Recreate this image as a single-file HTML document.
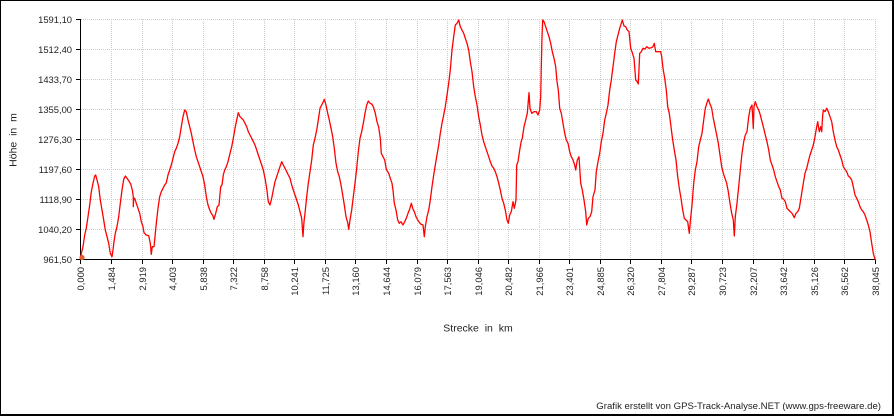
<!DOCTYPE html>
<html><head><meta charset="utf-8"><style>
html,body{margin:0;padding:0;background:#fff;}
body{width:894px;height:416px;overflow:hidden;}
svg{display:block;}
text{font-family:"Liberation Sans",Arial,sans-serif;fill:#222;}
</style></head><body>
<svg width="894" height="416" viewBox="0 0 894 416" xmlns="http://www.w3.org/2000/svg">
<rect x="0" y="0" width="894" height="416" fill="#fff"/>
<!-- frame -->
<rect x="0" y="0" width="894" height="1" fill="#000"/>
<rect x="0" y="0" width="1" height="416" fill="#000"/>
<rect x="892" y="0" width="2" height="416" fill="#000"/>
<rect x="0" y="414" width="894" height="2" fill="#000"/>

<!-- grid -->
<g stroke="#cdcdcd" stroke-width="1" stroke-dasharray="1,1" fill="none" shape-rendering="crispEdges">
<line x1="81" y1="19.5" x2="876" y2="19.5"/>
<line x1="81" y1="49.5" x2="876" y2="49.5"/>
<line x1="81" y1="79.5" x2="876" y2="79.5"/>
<line x1="81" y1="109.5" x2="876" y2="109.5"/>
<line x1="81" y1="139.5" x2="876" y2="139.5"/>
<line x1="81" y1="169.5" x2="876" y2="169.5"/>
<line x1="81" y1="199.5" x2="876" y2="199.5"/>
<line x1="81" y1="229.5" x2="876" y2="229.5"/>
<line x1="111.5" y1="19" x2="111.5" y2="259"/>
<line x1="142.5" y1="19" x2="142.5" y2="259"/>
<line x1="172.5" y1="19" x2="172.5" y2="259"/>
<line x1="203.5" y1="19" x2="203.5" y2="259"/>
<line x1="233.5" y1="19" x2="233.5" y2="259"/>
<line x1="264.5" y1="19" x2="264.5" y2="259"/>
<line x1="294.5" y1="19" x2="294.5" y2="259"/>
<line x1="325.5" y1="19" x2="325.5" y2="259"/>
<line x1="355.5" y1="19" x2="355.5" y2="259"/>
<line x1="386.5" y1="19" x2="386.5" y2="259"/>
<line x1="417.5" y1="19" x2="417.5" y2="259"/>
<line x1="447.5" y1="19" x2="447.5" y2="259"/>
<line x1="478.5" y1="19" x2="478.5" y2="259"/>
<line x1="508.5" y1="19" x2="508.5" y2="259"/>
<line x1="539.5" y1="19" x2="539.5" y2="259"/>
<line x1="569.5" y1="19" x2="569.5" y2="259"/>
<line x1="600.5" y1="19" x2="600.5" y2="259"/>
<line x1="630.5" y1="19" x2="630.5" y2="259"/>
<line x1="661.5" y1="19" x2="661.5" y2="259"/>
<line x1="691.5" y1="19" x2="691.5" y2="259"/>
<line x1="722.5" y1="19" x2="722.5" y2="259"/>
<line x1="753.5" y1="19" x2="753.5" y2="259"/>
<line x1="783.5" y1="19" x2="783.5" y2="259"/>
<line x1="814.5" y1="19" x2="814.5" y2="259"/>
<line x1="844.5" y1="19" x2="844.5" y2="259"/>
<line x1="875.5" y1="19" x2="875.5" y2="259"/>
</g>

<!-- axes -->
<g stroke="#000" stroke-width="1" fill="none" shape-rendering="crispEdges">
<line x1="80.5" y1="19" x2="80.5" y2="260"/>
<line x1="80" y1="259.5" x2="876" y2="259.5"/>
<line x1="76" y1="19.5" x2="80" y2="19.5"/>
<line x1="76" y1="49.5" x2="80" y2="49.5"/>
<line x1="76" y1="79.5" x2="80" y2="79.5"/>
<line x1="76" y1="109.5" x2="80" y2="109.5"/>
<line x1="76" y1="139.5" x2="80" y2="139.5"/>
<line x1="76" y1="169.5" x2="80" y2="169.5"/>
<line x1="76" y1="199.5" x2="80" y2="199.5"/>
<line x1="76" y1="229.5" x2="80" y2="229.5"/>
<line x1="76" y1="259.5" x2="80" y2="259.5"/>
<line x1="80.5" y1="260" x2="80.5" y2="264"/>
<line x1="111.5" y1="260" x2="111.5" y2="264"/>
<line x1="142.5" y1="260" x2="142.5" y2="264"/>
<line x1="172.5" y1="260" x2="172.5" y2="264"/>
<line x1="203.5" y1="260" x2="203.5" y2="264"/>
<line x1="233.5" y1="260" x2="233.5" y2="264"/>
<line x1="264.5" y1="260" x2="264.5" y2="264"/>
<line x1="294.5" y1="260" x2="294.5" y2="264"/>
<line x1="325.5" y1="260" x2="325.5" y2="264"/>
<line x1="355.5" y1="260" x2="355.5" y2="264"/>
<line x1="386.5" y1="260" x2="386.5" y2="264"/>
<line x1="417.5" y1="260" x2="417.5" y2="264"/>
<line x1="447.5" y1="260" x2="447.5" y2="264"/>
<line x1="478.5" y1="260" x2="478.5" y2="264"/>
<line x1="508.5" y1="260" x2="508.5" y2="264"/>
<line x1="539.5" y1="260" x2="539.5" y2="264"/>
<line x1="569.5" y1="260" x2="569.5" y2="264"/>
<line x1="600.5" y1="260" x2="600.5" y2="264"/>
<line x1="630.5" y1="260" x2="630.5" y2="264"/>
<line x1="661.5" y1="260" x2="661.5" y2="264"/>
<line x1="691.5" y1="260" x2="691.5" y2="264"/>
<line x1="722.5" y1="260" x2="722.5" y2="264"/>
<line x1="753.5" y1="260" x2="753.5" y2="264"/>
<line x1="783.5" y1="260" x2="783.5" y2="264"/>
<line x1="814.5" y1="260" x2="814.5" y2="264"/>
<line x1="844.5" y1="260" x2="844.5" y2="264"/>
<line x1="875.5" y1="260" x2="875.5" y2="264"/>
</g>

<!-- y labels -->
<g font-size="9.4" text-anchor="end">
<text x="72" y="22.8">1591,10</text>
<text x="72" y="52.8">1512,40</text>
<text x="72" y="82.8">1433,70</text>
<text x="72" y="112.8">1355,00</text>
<text x="72" y="142.8">1276,30</text>
<text x="72" y="172.8">1197,60</text>
<text x="72" y="202.8">1118,90</text>
<text x="72" y="232.8">1040,20</text>
<text x="72" y="262.8">961,50</text>
</g>

<!-- x labels -->
<g font-size="9.4" text-anchor="end">
<text transform="translate(84,267) rotate(-90)">0,000</text>
<text transform="translate(115,267) rotate(-90)">1,484</text>
<text transform="translate(146,267) rotate(-90)">2,919</text>
<text transform="translate(176,267) rotate(-90)">4,403</text>
<text transform="translate(207,267) rotate(-90)">5,838</text>
<text transform="translate(237,267) rotate(-90)">7,322</text>
<text transform="translate(268,267) rotate(-90)">8,758</text>
<text transform="translate(298,267) rotate(-90)">10,241</text>
<text transform="translate(329,267) rotate(-90)">11,725</text>
<text transform="translate(359,267) rotate(-90)">13,160</text>
<text transform="translate(390,267) rotate(-90)">14,644</text>
<text transform="translate(421,267) rotate(-90)">16,079</text>
<text transform="translate(451,267) rotate(-90)">17,563</text>
<text transform="translate(482,267) rotate(-90)">19,046</text>
<text transform="translate(512,267) rotate(-90)">20,482</text>
<text transform="translate(543,267) rotate(-90)">21,966</text>
<text transform="translate(573,267) rotate(-90)">23,401</text>
<text transform="translate(604,267) rotate(-90)">24,885</text>
<text transform="translate(634,267) rotate(-90)">26,320</text>
<text transform="translate(665,267) rotate(-90)">27,804</text>
<text transform="translate(695,267) rotate(-90)">29,287</text>
<text transform="translate(726,267) rotate(-90)">30,723</text>
<text transform="translate(757,267) rotate(-90)">32,207</text>
<text transform="translate(787,267) rotate(-90)">33,642</text>
<text transform="translate(818,267) rotate(-90)">35,126</text>
<text transform="translate(848,267) rotate(-90)">36,562</text>
<text transform="translate(879,267) rotate(-90)">38,045</text>
</g>

<!-- axis titles -->
<text x="478" y="331.5" font-size="10.5" text-anchor="middle">Strecke&#160;&#160;in&#160;&#160;km</text>
<text transform="translate(16.5,140) rotate(-90)" font-size="10.5" text-anchor="middle">Höhe&#160;&#160;in&#160;&#160;m</text>

<!-- footer -->
<text x="881" y="409" font-size="9.6" text-anchor="end">Grafik erstellt von GPS-Track-Analyse.NET (www.gps-freeware.de)</text>

<!-- profile -->
<polyline fill="none" stroke="#ff0000" stroke-width="1.3" stroke-linejoin="round" points="
81,258 81.3,253.3 83,246.7 84.7,235 86.3,228 88,216.7 89.7,205 91.3,191.7 93,183.3 94.7,176 95.7,175 97,180 98.7,186.7 100.3,200 102,210 103.7,220 105.3,230 107,236.7 108.7,243.3 110.3,253.3 112,256.7 113,250 114,241.7 115.3,233.3 117,226.7 118.7,216.7 120.3,203.3 122,190 123.7,179.3 125.3,176 127,178.3 128.7,180.7 130.7,184 132.3,190 133.3,196.7 133.3,206.7 133.7,198.3 134.7,198.3 136.3,203.3 138,208.3 139.7,213.3 141.3,221.7 143,226.7 144,232.7 146.3,235 148.7,235.7 150.3,243.3 151.3,254.3 152.3,246.7 154,246.7 155,236.7 156.3,223.3 158,208.3 159.7,196.7 161.3,191.7 163,188.3 164.7,185 166.3,182.7 168,175 169.7,170 171.3,165 173,158.3 174.7,151.7 176.3,148.3 178,143.3 179.7,136.7 181.3,126.7 183,116.7 184.7,110 186.3,111.7 188,120 189.7,126.7 191.3,133.3 193,141.7 194.7,150 196.3,156.7 198,161.7 199.7,166.7 201.3,171.7 203,176.7 204.7,185 206.3,196.7 208,205 209.7,210 211.3,213.3 213,216 214,219.3 215.7,213.3 217.3,206.7 219,205 220.7,186.7 222,185 223.3,175 224.7,170 226.3,166.7 228,161.7
230,153.3 231.7,146.7 233.3,138.3 235,128.3 236.7,120 238.3,112.7 240,116.7 241.7,118.3 243.3,120 245,123.3 246.7,126.7 248.3,131.7 250,135 251.7,138.3 253.3,141.7 255,145 256.7,150 258.3,155 260,160 261.7,165 263.3,170 265,178.3 266.7,188.3 268.3,201.7 270,205 271.7,198.3 273.3,190 275,181.7 276.7,176.7 278.3,171.7 280,166.7 281.7,161.7 283.3,165 285,168.3 286.7,171.7 288.3,175 290,178.3 291.7,185 293.3,190 295,195 296.7,200 298.3,205 300,211.7 301.7,218.3 303,236.7 304,221.7 305,213.3 306.7,196.7 308.3,183.3 310,171.7 311.7,160 313.3,145 315,138.3 316.7,130 318.3,120 320,108.3 321.7,105 323.3,101.7 324.3,99.3 326,105 327.7,113.3 329.3,120 331,128.3 332.7,136.7 334.3,148.3 336,163.3 337.7,171.7 339.3,176.7 341,185 342.7,195 344.3,205 346,216.7 347.7,222.7 348.7,229.3 350,220 351.7,210 353.3,196.7 355,183.3 356.7,168.3 358.3,151.7 360,138.3 361.7,131.7 363.3,123.3 365,113.3 366.7,105 368.3,101 370,103.3 371.7,104 373.3,106.7
375.3,113.3 377,121.7 378.7,127.3 380.3,138.3 381.3,153.3 383,156.7 384.7,160 386.3,169.3 388.7,173.3 390.3,178.3 392,183.3 393,190 394.3,203.3 396,210 397.7,220 399.3,223.3 401,221.7 403,225 404.7,221.7 406.3,218.3 408,213.3 409.7,209 411.3,203.3 412.7,208.3 414.3,211.7 416,216.7 417.7,220 419.3,222.3 421,224.3 423,225 424.3,236.7 425.3,226.7 427,216.7 428.7,210 430.3,200 432,186.7 433.7,175 435.3,165 437,155 438.7,145 440.3,133.3 442,123.3 443.7,115 445.3,106.7 447,95 448.7,83.3 450.3,70 452,50 453.7,36.7 455.3,25 457,23.3 458.7,20 460.3,26.7 462,30 463.7,33.3 465.3,38.3 467,43.3 468.7,50 470.3,61.7 472,71.7 473.7,86.7 475.3,96.7 477,105 478.7,116.7 480.3,125 482,135 483.7,141.7 485.3,146.7 487,151.7 488.7,156.7 490.3,161.7 492,166 493.7,168.3 495.3,171.7 497,176.7 498.7,183.3 500.3,190 502,198.3 503.7,203.3 505.3,210 507,220 508.3,223.3 509.7,215 511.3,211.7 513,201.7 514.3,208.3 516,200 516.7,165 518,161.7 519.7,150 521.3,141 522.3,138.3
524,126.7 525.7,120 527.3,113.3 529,92.7 530,108.3 531.7,113.3 534,111.7 536.3,111.7 538,115 539.7,110 540.7,96.7 541.3,66.7 542,36.7 542.7,20 544,21.7 545.7,26.7 547.3,31.7 549,36.7 550.7,43.3 552.3,51.7 554,58.3 555.7,66.7 557,81.7 558.3,90 559.7,108.3 561.3,113.3 563,123.3 564.7,133.3 566.3,140 568,143.3 569.7,151.7 571.3,156.7 573,160 574.7,165 575.7,170 577.3,160 579,156.7 580.7,183.3 582.3,190 584,200 585.7,211.7 586.7,225 588.3,218.3 590,216.7 591.7,211.7 593,196.7 595,190 596.3,171.7 598,161.7 599.7,153.3 601.3,141.7 603,133.3 604.7,120 606.3,113.3 608,105 609.7,90 611.3,80 613,66.7 614.7,53.3 616.3,41.7 618,35 619.7,28.3 621.3,23.3 622.3,20 624,26 625.7,26.7 627.3,30 629,31.7 630.7,48.3 632.3,52.7 634,58.3 635.7,80 637.3,81.7 638.3,84 639.7,53.3 641.3,51.7 643,48.3 645,49 646.7,46.7 649,48.3 651.3,47.7 653,46.7 654.3,43.3 655.7,51.7 657.3,51.7 659,51.7 660.7,51.7 661.7,56.7 663,68.3 664.7,78.3 666.3,90
667.7,106.7 669.3,113.3 671,126.7 672.7,140 674.3,150 676,160 677.7,176.7 679.3,188.3 681,198.3 682.7,210 684.3,218.3 686,220 687.7,221.7 689.3,233.3 690.3,221.7 692,205 693.7,183.3 695.3,170 697,161.7 698.7,146.7 700.3,140 702,133.3 703.7,120 705.3,108.3 707,102.7 708.3,99 710,104 711.7,108.3 713.3,118.3 715,126.7 716.7,135 718.3,143.3 720,155 721.7,166.7 723.3,173.3 725,178.3 726.7,183.3 728.3,191.7 730,203.3 731.7,213.3 733.3,220 734.3,236 735.3,216.7 737,203.3 738.7,186.7 740.3,170 742,153.3 743.7,141.7 745.3,135 747,131.7 748.7,116.7 750.3,108.3 752,105 753.3,128.3 754,106.7 755.3,101.7 757,106.7 758.7,110 760.3,115 762,121.7 763.7,128.3 765.3,135 767,141.7 768.7,150 770.3,160 772,165 773.7,170 775.3,176.7 777,181.7 778.7,186.7 780.3,190 782,198.3 783.7,199.3 785.3,201.7 787,208.3 788.7,210 790.3,211.7 792,213.3 794.3,217.7 796,213.3 797.7,211.7 799.3,208.3
801.7,193.3 803.3,183.3 805,173.3 806.7,168.3 808.3,161.7 810,155 811.7,150 813.3,145 815,136.7 816.7,126.7 817.7,121.7 819.3,131.7 820.7,126.7 821.7,131.7 822.7,115 823.3,110 825,111.7 826.7,108.3 828.3,111.7 830,116.7 831.7,121.7 833.3,131.7 835,140 836.7,146.7 838.3,150 840,155 841.7,160 843.3,166.7 845,169.3 846.7,171.7 848.3,176 850,177.3 851.7,180 853.3,186.7 855,195 856.7,198.3 858.3,201.7 860,206.7 861.7,210 863.3,211.7 865,215 866.7,220 868.3,225 870,231.7 871.7,243.3 873.3,253.3 874.7,258.3 875.7,260"/>

<!-- start marker -->
<circle cx="82" cy="257.5" r="2.6" fill="#ec5a32"/>
</svg>
</body></html>
